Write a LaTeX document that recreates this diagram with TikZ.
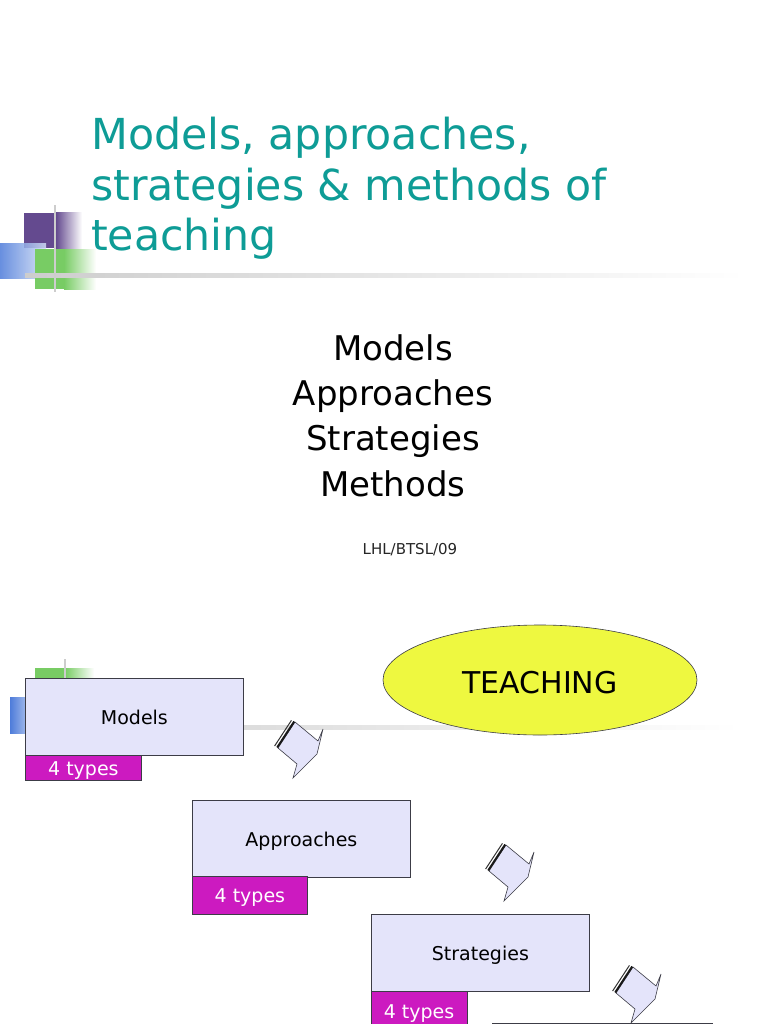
\documentclass[tikz,border=0pt]{standalone}
\usepackage{fontspec}
\setmainfont{DejaVu Sans}
\usetikzlibrary{shapes.geometric}
\definecolor{teal1}{RGB}{14,156,150}
\definecolor{boxfill}{RGB}{228,228,250}
\definecolor{magbox}{RGB}{204,26,192}
\definecolor{yel}{RGB}{238,248,64}
\definecolor{purp}{RGB}{100,74,143}
\definecolor{grn}{RGB}{120,204,100}
\definecolor{blu}{RGB}{78,124,218}
\definecolor{linegrey}{RGB}{205,205,205}
\definecolor{edge}{RGB}{60,60,70}
\tikzset{
  titletext/.style={anchor=base west, text=teal1, inner sep=0, font=\fontsize{42.7}{50}\selectfont},
  listtext/.style={anchor=base, inner sep=0, font=\fontsize{34}{40}\selectfont},
  stepbox/.style={draw=edge, fill=boxfill, line width=0.8pt, anchor=north west, minimum width=218, minimum height=77, inner sep=0, text height=15.9pt, text depth=0pt, font=\fontsize{19}{22}\selectfont},
  typebox/.style={draw=edge, fill=magbox, text=white, line width=0.8pt, anchor=north west, inner sep=0, text height=14.9pt, text depth=0pt, font=\fontsize{19}{22}\selectfont},
  flagarrow/.pic={
    \draw[fill=boxfill, draw=edge, line width=0.6pt, line join=miter]
      (0,0) -- (-17,26) -- (2,42) -- (-2,56) -- (22,32) -- (28,7) -- (23,19) -- cycle;
    \draw[black!90, line width=2pt] (-0.8,-0.5) -- (-17.8,25.5);
    \draw[black!80, line width=1pt] (-3.6,-1.6) -- (-20.4,24.0);
  }
}
\begin{document}
\begin{tikzpicture}[x=1pt,y=-1pt]
\clip (0,0) rectangle (768,1024);
\fill[white] (0,0) rectangle (768,1024);

% ---------- top slide decoration ----------
\fill[purp] (24,213) rectangle (56,248);
\shade[left color=purp, right color=white] (56,213) rectangle (82,248);
\shade[left color=blu, right color=blu!25, opacity=0.85] (0,243) rectangle (46,278);
\fill[grn] (35,249) rectangle (64,289);
\shade[left color=grn, right color=white] (64,249) rectangle (96,289);
\shade[left color=linegrey, right color=white] (25,273) rectangle (745,277);
\fill[linegrey] (54,205) rectangle (56,292);

% ---------- top slide text ----------
\node[titletext] (t1) at (91,150) {Models, approaches,};
\node[titletext] (t2) at (91,201) {strategies \& methods of};
\node[titletext] (t3) at (91,251) {teaching};

\node[listtext] (l1) at (393,360) {Models};
\node[listtext] (l2) at (393,405) {Approaches};
\node[listtext] (l3) at (393,450) {Strategies};
\node[listtext] (l4) at (393,496) {Methods};
\node[font=\fontsize{15}{17}\selectfont, text=black!85] (code) at (410,550) {LHL/BTSL/09};

% ---------- bottom slide decoration ----------
\fill[grn] (35,668) rectangle (65,680);
\shade[left color=grn, right color=white] (65,668) rectangle (94,680);
\fill[linegrey] (64,659) rectangle (66,680);
\shade[left color=blu, right color=blu!55] (10,697) rectangle (26,733);
\shade[left color=linegrey, right color=white] (25,725) rectangle (740,729);

% ---------- bottom slide diagram ----------
\node[draw=edge, line width=0.6pt, fill=yel, ellipse, minimum width=314, minimum height=110,
      inner sep=0, text height=26.9pt, text depth=0pt, font=\fontsize{30}{34}\selectfont] (teach) at (540,680) {TEACHING};

\node[stepbox] (models) at (25,678) {Models};
\node[typebox, minimum width=116, minimum height=25] (mt) at (25,755) {4 types};

\node[stepbox] (appr) at (192,800) {Approaches};
\node[typebox, minimum width=115, minimum height=38] (at) at (192,876) {4 types};

\node[stepbox] (strat) at (371,914) {Strategies};
\node[typebox, minimum width=96, minimum height=46] (st) at (371,991) {};
\node[text=white, font=\fontsize{19}{22}\selectfont, inner sep=0] (stl) at (419,1014) {4 types};

\node[stepbox, minimum width=220] (meth) at (492,1023) {};

\pic (a1) at (295,722) {flagarrow};
\pic (a2) at (506,845) {flagarrow};
\pic (a3) at (633,967) {flagarrow};
\end{tikzpicture}
\end{document}
